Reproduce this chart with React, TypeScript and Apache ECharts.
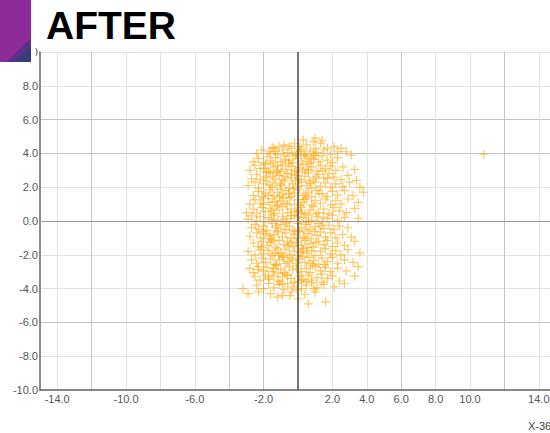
import React, { useEffect, useRef } from "react";
import * as echarts from "echarts";

const xTickLabels = [-14, -10, -6, -2, 2, 4, 6, 8, 10, 14];
const yTicks = [-10, -8, -6, -4, -2, 0, 2, 4, 6, 8, 10];
const xAxisName = "X-36";
const title = "AFTER";

const points: number[][] = [
  [-1.4,4.3],[-0.8,4.5],[-0.2,4.6],[0.1,4.4],[0.5,4.5],[0.9,4.7],[1.3,4.6],[1.7,4.3],[2.1,4.4],[0.3,4.8],[-1.1,4.4],[1.0,4.3],[2.5,4.3],[1.0,4.9],[1.4,4.75],
  [-2.4,4.0],[-2.1,4.2],[-1.7,4.1],[-1.5,4.35],[-1.2,3.95],[-0.9,4.2],[-0.6,4.05],[-0.4,4.3],[-0.1,4.0],[0.2,4.25],[0.4,3.9],[0.7,4.15],[1.1,4.05],[1.5,4.2],[1.9,3.95],[2.3,4.1],[2.8,4.1],[3.1,3.9],[-0.3,3.92],[0.9,3.98],
  [-2.6,3.5],[-2.3,3.7],[-2.0,3.45],[-1.8,3.8],[-1.6,3.55],[-1.3,3.75],[-1.0,3.5],[-0.8,3.85],[-0.5,3.6],[-0.3,3.45],[0.0,3.7],[0.2,3.55],[0.5,3.8],[0.7,3.4],[0.9,3.65],[1.2,3.5],[1.4,3.85],[1.7,3.6],[2.0,3.45],[2.3,3.75],[-1.5,3.42],[0.35,3.9],[-0.15,3.85],[1.0,3.88],
  [-2.8,3.0],[-2.5,3.3],[-2.2,3.1],[-1.9,3.35],[-1.7,2.95],[-1.4,3.2],[-1.2,3.0],[-0.9,3.3],[-0.7,3.05],[-0.4,3.25],[-0.2,2.95],[0.1,3.15],[0.3,3.35],[0.6,3.0],[0.8,3.2],[1.1,2.95],[1.3,3.3],[1.6,3.1],[1.9,3.25],[2.2,3.0],[2.6,3.2],[3.3,3.05],[-1.0,2.92],[0.45,3.05],[-0.55,3.4],[1.45,2.98],
  [-2.7,2.5],[-2.4,2.75],[-2.2,2.45],[-1.9,2.6],[-1.6,2.85],[-1.4,2.5],[-1.1,2.7],[-0.9,2.45],[-0.6,2.8],[-0.4,2.55],[-0.1,2.7],[0.1,2.45],[0.4,2.65],[0.6,2.85],[0.9,2.5],[1.2,2.75],[1.5,2.55],[1.8,2.8],[2.1,2.6],[2.5,2.45],[2.9,2.7],[3.4,2.4],[-1.25,2.88],[0.25,2.9],[-0.75,2.62],[1.05,2.62],
  [-2.9,2.1],[-2.5,2.3],[-2.3,1.95],[-2.0,2.2],[-1.8,2.35],[-1.5,2.0],[-1.3,2.25],[-1.0,2.1],[-0.8,2.35],[-0.5,1.95],[-0.3,2.2],[0.0,2.05],[0.2,2.3],[0.5,2.1],[0.8,1.95],[1.0,2.3],[1.3,2.05],[1.6,2.25],[1.9,2.0],[2.2,2.2],[2.6,2.05],[3.0,2.3],[3.6,2.0],[-1.65,2.12],[0.65,2.38],[-0.15,2.38],
  [-2.6,1.5],[-2.3,1.75],[-2.1,1.45],[-1.9,1.65],[-1.6,1.85],[-1.4,1.5],[-1.2,1.7],[-0.9,1.55],[-0.7,1.8],[-0.4,1.45],[-0.2,1.65],[0.1,1.85],[0.3,1.5],[0.6,1.7],[0.8,1.45],[1.1,1.8],[1.4,1.6],[1.7,1.45],[2.0,1.75],[2.3,1.55],[2.7,1.8],[3.2,1.5],[3.8,1.7],[-1.05,1.88],[0.45,1.6],[-0.55,1.62],
  [-2.8,1.0],[-2.5,1.25],[-2.2,1.05],[-2.0,1.35],[-1.7,1.1],[-1.5,1.3],[-1.2,0.95],[-1.0,1.2],[-0.7,1.05],[-0.5,1.35],[-0.2,1.0],[0.0,1.25],[0.3,1.1],[0.5,1.35],[0.8,0.95],[1.0,1.2],[1.3,1.05],[1.6,1.3],[1.9,0.95],[2.2,1.2],[2.5,1.0],[2.9,1.3],[3.5,1.1],[-1.35,1.15],[0.15,0.92],[-0.85,1.38],
  [-3.0,0.5],[-2.6,0.7],[-2.4,0.45],[-2.1,0.8],[-1.9,0.55],[-1.6,0.75],[-1.4,0.45],[-1.1,0.65],[-0.9,0.85],[-0.6,0.5],[-0.4,0.7],[-0.1,0.55],[0.2,0.8],[0.4,0.45],[0.7,0.65],[0.9,0.85],[1.2,0.5],[1.5,0.7],[1.8,0.45],[2.1,0.8],[2.4,0.6],[2.8,0.5],[3.3,0.75],[-1.25,0.88],[0.05,0.62],[1.05,0.42],
  [-2.9,0.1],[-2.7,0.3],[-2.4,0.0],[-2.2,0.25],[-1.9,-0.05],[-1.7,0.2],[-1.4,0.35],[-1.2,0.05],[-0.9,0.25],[-0.7,-0.05],[-0.4,0.15],[-0.2,0.35],[0.1,0.0],[0.3,0.2],[0.6,0.35],[0.8,0.05],[1.1,0.25],[1.4,-0.05],[1.7,0.15],[2.0,0.35],[2.3,0.05],[2.7,0.2],[3.5,0.15],[-1.55,0.08],[0.45,-0.08],[-0.05,0.28],
  [-2.7,-0.4],[-2.5,-0.2],[-2.3,-0.5],[-2.0,-0.3],[-1.8,-0.55],[-1.5,-0.15],[-1.3,-0.4],[-1.0,-0.2],[-0.8,-0.5],[-0.5,-0.3],[-0.3,-0.55],[0.0,-0.15],[0.2,-0.4],[0.5,-0.2],[0.7,-0.5],[1.0,-0.35],[1.2,-0.15],[1.5,-0.45],[1.8,-0.25],[2.1,-0.5],[2.4,-0.3],[2.9,-0.4],[-1.15,-0.58],[0.35,-0.58],[-0.65,-0.12],[1.35,-0.28],
  [-2.8,-0.9],[-2.4,-0.7],[-2.2,-1.0],[-1.9,-0.75],[-1.7,-1.05],[-1.4,-0.8],[-1.2,-0.65],[-0.9,-0.95],[-0.7,-0.7],[-0.4,-1.0],[-0.2,-0.8],[0.1,-0.65],[0.3,-0.95],[0.6,-0.75],[0.8,-1.05],[1.1,-0.85],[1.3,-0.65],[1.6,-0.95],[1.9,-0.7],[2.2,-1.0],[2.6,-0.8],[3.1,-0.95],[-1.55,-1.08],[-0.05,-1.05],[0.95,-0.62],[-2.05,-0.62],
  [-2.6,-1.3],[-2.3,-1.5],[-2.1,-1.2],[-1.8,-1.45],[-1.6,-1.25],[-1.3,-1.55],[-1.1,-1.15],[-0.8,-1.4],[-0.6,-1.2],[-0.3,-1.5],[-0.1,-1.25],[0.2,-1.45],[0.4,-1.15],[0.7,-1.35],[0.9,-1.55],[1.2,-1.2],[1.5,-1.4],[1.7,-1.15],[2.0,-1.5],[2.3,-1.3],[2.7,-1.45],[3.3,-1.2],[-1.45,-1.18],[0.55,-1.58],[-0.45,-1.32],[1.05,-1.28],
  [-2.9,-1.8],[-2.5,-2.0],[-2.2,-1.7],[-2.0,-1.95],[-1.7,-1.75],[-1.5,-2.05],[-1.2,-1.65],[-1.0,-1.9],[-0.7,-1.7],[-0.5,-2.0],[-0.2,-1.8],[0.0,-2.05],[0.3,-1.65],[0.5,-1.9],[0.8,-1.75],[1.0,-2.05],[1.3,-1.8],[1.6,-1.65],[1.9,-1.95],[2.2,-1.75],[2.5,-2.0],[2.9,-1.7],[3.6,-1.9],[-1.35,-1.92],[0.15,-1.88],[-0.85,-2.08],
  [-2.7,-2.3],[-2.4,-2.5],[-2.1,-2.2],[-1.9,-2.45],[-1.6,-2.25],[-1.4,-2.55],[-1.1,-2.3],[-0.9,-2.15],[-0.6,-2.4],[-0.4,-2.2],[-0.1,-2.5],[0.1,-2.25],[0.4,-2.45],[0.6,-2.15],[0.9,-2.35],[1.2,-2.55],[1.4,-2.2],[1.7,-2.4],[2.0,-2.15],[2.3,-2.5],[2.7,-2.3],[3.2,-2.45],[-1.25,-2.58],[0.25,-2.12],[-0.75,-2.52],[1.55,-2.58],
  [-2.8,-2.8],[-2.6,-3.05],[-2.3,-2.7],[-2.0,-2.95],[-1.8,-2.75],[-1.5,-3.0],[-1.3,-2.65],[-1.0,-2.85],[-0.8,-3.05],[-0.5,-2.7],[-0.3,-2.9],[0.0,-2.65],[0.2,-3.0],[0.5,-2.8],[0.7,-3.05],[1.0,-2.7],[1.3,-2.95],[1.6,-2.75],[1.9,-3.0],[2.3,-2.8],[2.8,-2.95],[3.5,-2.7],[-1.15,-3.08],[0.85,-2.62],
  [-2.5,-3.3],[-2.2,-3.5],[-1.9,-3.2],[-1.7,-3.45],[-1.4,-3.25],[-1.2,-3.55],[-0.9,-3.3],[-0.7,-3.15],[-0.4,-3.4],[-0.2,-3.6],[0.1,-3.25],[0.3,-3.45],[0.6,-3.2],[0.8,-3.5],[1.1,-3.35],[1.4,-3.15],[1.7,-3.4],[2.0,-3.25],[2.4,-3.55],[3.3,-3.25],[-1.05,-3.58],[0.45,-3.58],
  [-3.2,-4.0],[-2.4,-3.8],[-2.0,-4.0],[-1.7,-3.7],[-1.4,-3.95],[-1.1,-3.75],[-0.8,-4.05],[-0.6,-3.7],[-0.3,-3.9],[0.0,-3.65],[0.2,-4.0],[0.5,-3.8],[0.8,-3.65],[1.1,-3.95],[1.5,-3.75],[2.1,-3.9],[2.7,-3.7],[-0.05,-4.08],
  [-2.9,-4.3],[-2.3,-4.2],[-1.6,-4.3],[-0.9,-4.4],[-0.4,-4.2],[0.0,-4.6],[0.4,-4.35],[1.0,-4.2],[1.6,-4.8],[-1.2,-4.5],[0.6,-4.9],
  [-1.62,3.98],[-0.72,3.62],[0.12,4.12],[-1.18,3.28],[-0.38,2.78],[0.58,3.48],[-1.48,2.62],[-0.12,3.02],[0.72,2.22],[-0.98,2.18],
  [-1.72,1.52],[-0.28,1.92],[0.38,1.28],[-1.08,1.42],[-0.62,0.98],[0.22,0.48],[-1.52,0.62],[-0.42,0.32],[0.62,-0.02],[-1.28,-0.28],
  [-0.18,-0.62],[0.48,-1.02],[-1.62,-0.88],[-0.58,-1.48],[0.28,-1.78],[-1.12,-2.02],[-0.32,-2.32],[0.72,-2.52],[-1.42,-2.82],[-0.62,-3.22],
  [0.18,-3.52],[-0.92,-3.72],[-1.82,2.88],[-0.82,0.12],[1.22,1.62],[-2.12,-1.58],[1.38,-3.62],[-1.92,3.12],[0.02,-1.42],[-0.52,4.42],
  [-1.32,4.12],[0.78,3.72],[-2.02,0.98],[1.48,0.22],[-0.08,-2.82],[-1.72,-3.32],[0.92,-4.02],[-0.48,-4.42],[1.72,2.52],[-2.32,-2.88],
  [10.8,3.95],
];

const mediumX = [-12, -4, -2, 6, 12];
const mediumY = [-6, 0, 4, 6];

export default function App() {
  const ref = useRef<HTMLDivElement>(null);
  useEffect(() => {
    if (!ref.current) return;
    const chart = echarts.init(ref.current, undefined, { renderer: "svg" });
    const xColors: string[] = [];
    for (let v = -15; v <= 15; v++) {
      if (Math.abs(v) % 2 === 1) xColors.push("rgba(0,0,0,0)");
      else if (mediumX.includes(v)) xColors.push("#c4c4c4");
      else xColors.push("#e2e2e2");
    }
    const yColors = yTicks.map((v) => (mediumY.includes(v) ? "#c4c4c4" : "#e2e2e2"));
    const plus =
      "path://M4.35,0 L5.65,0 L5.65,4.35 L10,4.35 L10,5.65 L5.65,5.65 L5.65,10 L4.35,10 L4.35,5.65 L0,5.65 L0,4.35 L4.35,4.35 Z";
    chart.setOption({
      animation: false,
      grid: { left: 40, top: 52, right: 14, bottom: 43, containLabel: false },
      xAxis: {
        type: "value",
        min: -15,
        max: 15,
        interval: 1,
        axisLine: { onZero: false, lineStyle: { color: "#666", width: 1.5 } },
        axisTick: { show: false },
        axisLabel: {
          margin: 3,
          color: "#555",
          fontSize: 11,
          fontFamily: "Liberation Sans",
          showMinLabel: true,
          showMaxLabel: true,
          formatter: (v: number) => (xTickLabels.includes(Math.round(v)) ? v.toFixed(1) : ""),
        },
        splitLine: { show: true, lineStyle: { color: xColors, width: 1 } },
      },
      yAxis: {
        type: "value",
        min: -10,
        max: 10,
        interval: 2,
        axisLine: { show: true, onZero: false, lineStyle: { color: "#666", width: 1.5 } },
        axisTick: { show: false },
        axisLabel: {
          margin: 2,
          color: "#555",
          fontSize: 11,
          fontFamily: "Liberation Sans",
          formatter: (v: number) => v.toFixed(1),
        },
        splitLine: { show: true, lineStyle: { color: yColors, width: 1 } },
      },
      series: [
        {
          type: "scatter",
          data: points,
          symbol: plus,
          symbolSize: 9,
          itemStyle: { color: "#FFA500", opacity: 0.62 },
          markLine: {
            silent: true,
            symbol: "none",
            label: { show: false },
            animation: false,
            data: [
              { xAxis: 0, lineStyle: { color: "#555", width: 1.6, type: "solid" } },
              { yAxis: 0, lineStyle: { color: "#999", width: 1.2, type: "solid" } },
            ],
          },
        },
      ],
      graphic: [
        { type: "rect", z: 100, shape: { x: 0, y: 0, width: 31, height: 62 }, style: { fill: "#8d2b9b" } },
        { type: "polygon", z: 101, shape: { points: [[6, 62], [31, 38], [31, 62]] }, style: { fill: "#5d3189" } },
        { type: "polygon", z: 102, shape: { points: [[14, 62], [31, 46], [31, 62]] }, style: { fill: "#363d78" } },
        { type: "rect", z: 100, shape: { x: 31, y: 42, width: 4.5, height: 20 }, style: { fill: "#ffffff" } },
        {
          type: "text",
          z: 100,
          left: 46,
          top: 6,
          style: { text: title, fill: "#000", font: "bold 39px 'Liberation Sans'" },
        },
        {
          type: "text",
          z: 100,
          left: 528,
          top: 420,
          style: { text: xAxisName, fill: "#444", font: "11px 'Liberation Sans'" },
        },
      ],
    });
    return () => chart.dispose();
  }, []);
  return (
    <div style={{ position: "absolute", left: 0, top: 0, width: 550, height: 433, overflow: "hidden" }}>
      <div ref={ref} style={{ width: 570, height: 433 }} />
    </div>
  );
}
